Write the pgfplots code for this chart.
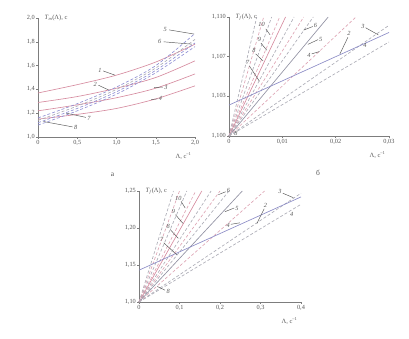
\documentclass[border=0pt]{standalone}
\usepackage{pgfplots}
\pgfplotsset{compat=1.18}
\usepackage{fontspec}
\setmainfont{Liberation Serif}

\definecolor{pinkS}{RGB}{214,140,160}
\definecolor{pinkD}{RGB}{222,165,180}
\definecolor{grayD}{RGB}{172,172,182}
\definecolor{grayS}{RGB}{145,145,162}
\definecolor{blueS}{RGB}{140,140,198}
\definecolor{blueD}{RGB}{145,145,212}
\definecolor{axisc}{RGB}{125,125,125}
\definecolor{txt}{RGB}{85,85,85}

\pgfplotsset{
 base/.style={scale only axis, axis lines=left,
   axis line style={-, axisc, line width=0.6pt},
   tick style={axisc, line width=0.5pt}, tick align=outside, major tick length=2pt,
   ticklabel style={font=\fontsize{6.3}{7}\selectfont, text=txt, inner sep=1pt},
   clip=false, enlargelimits=false,
   every axis plot/.append style={line width=0.65pt}},
}
\tikzset{
 sd/.style={dash pattern=on 3pt off 2pt},
 lead/.style={draw=txt, line width=0.45pt},
 num/.style={font=\fontsize{6.3}{7}\selectfont\itshape, text=txt, inner sep=0.5pt},
 lbl/.style={font=\fontsize{6.5}{7}\selectfont, text=txt},
 big/.style={font=\fontsize{7.5}{8}\selectfont, text=txt},
}

\begin{document}
\begin{tikzpicture}
\path (0,0) rectangle (409pt,338pt);

% ---------------- panel a ----------------
\begin{axis}[base, at={(38pt,201pt)}, anchor=south west, width=157pt, height=119pt,
  xmin=0, xmax=2, ymin=1, ymax=2,
  xtick={0,0.5,1,1.5,2}, xticklabels={0,{0,5},{1,0},{1,5},{2,0}},
  ytick={1,1.2,1.4,1.6,1.8,2}, yticklabels={{1,0},{1,2},{1,4},{1,6},{1,8},{2,0}}]
\addplot[pinkS, smooth] coordinates {(0,1.37) (0.5,1.44) (1,1.52) (1.5,1.63) (2,1.78)};
\addplot[pinkS, smooth] coordinates {(0,1.29) (0.5,1.34) (1,1.41) (1.5,1.50) (2,1.64)};
\addplot[pinkS, smooth] coordinates {(0,1.22) (0.5,1.27) (1,1.33) (1.5,1.41) (2,1.53)};
\addplot[pinkS, smooth] coordinates {(0,1.15) (0.5,1.19) (1,1.24) (1.5,1.32) (2,1.43)};
\addplot[blueD, sd, smooth] coordinates {(0,1.16) (0.5,1.28) (1,1.42) (1.5,1.60) (2,1.87)};
\addplot[grayD, sd, smooth] coordinates {(0,1.14) (0.5,1.26) (1,1.40) (1.5,1.58) (2,1.82)};
\addplot[blueD, sd, smooth] coordinates {(0,1.12) (0.5,1.24) (1,1.38) (1.5,1.56) (2,1.79)};
\addplot[blueD, sd, smooth] coordinates {(0,1.10) (0.5,1.22) (1,1.36) (1.5,1.54) (2,1.76)};
\node[lbl, anchor=west, xshift=3pt] at (rel axis cs:0,1) {\textit{T}\textsubscript{\textit{m}}(Λ), с};
\node[lbl, anchor=north east, yshift=-12pt] at (rel axis cs:1,0) {Λ, с\textsuperscript{–1}};
\node[big] at (axis cs:0.95,0.68) {а};
\node[num] at (axis cs:0.79,1.56) {1};
\draw[lead] (axis cs:0.83,1.555) -- (axis cs:0.98,1.52);
\node[num] at (axis cs:0.73,1.44) {2};
\draw[lead] (axis cs:0.77,1.435) -- (axis cs:0.9,1.395);
\node[num] at (axis cs:1.63,1.42) {3};
\draw[lead] (axis cs:1.48,1.415) -- (axis cs:1.59,1.42);
\node[num] at (axis cs:1.56,1.32) {4};
\draw[lead] (axis cs:1.44,1.315) -- (axis cs:1.52,1.32);
\node[num] at (axis cs:1.62,1.90) {5};
\draw[lead] (axis cs:1.67,1.90) -- (axis cs:1.99,1.865);
\node[num] at (axis cs:1.55,1.80) {6};
\draw[lead] (axis cs:1.60,1.80) -- (axis cs:1.96,1.78);
\node[num] at (axis cs:0.65,1.16) {7};
\draw[lead] (axis cs:0.61,1.165) -- (axis cs:0.36,1.20);
\node[num] at (axis cs:0.48,1.08) {8};
\draw[lead] (axis cs:0.44,1.085) -- (axis cs:0.07,1.13);
\end{axis}

% ---------------- panel b ----------------
\begin{axis}[base, at={(229pt,202pt)}, anchor=south west, width=160pt, height=119pt,
  xmin=0, xmax=0.03, ymin=1.1, ymax=1.11,
  xtick={0,0.01,0.02,0.03}, xticklabels={0,{0,01},{0,02},{0,03}},
  ytick={1.1,1.103333,1.106667,1.11}, yticklabels={{1,100},{1,103},{1,107},{1,110}},
  scaled x ticks=false, scaled y ticks=false]
\addplot[grayD, sd] coordinates {(0,1.1) (0.0052,1.11)};
\addplot[pinkD, sd] coordinates {(0,1.1) (0.0065,1.11)};
\addplot[grayD, sd] coordinates {(0,1.1) (0.0080,1.11)};
\addplot[pinkD, sd] coordinates {(0,1.1) (0.0095,1.11)};
\addplot[pinkS] coordinates {(0,1.1) (0.0106,1.11)};
\addplot[grayD, sd] coordinates {(0,1.1) (0.0122,1.11)};
\addplot[pinkD, sd] coordinates {(0,1.1) (0.0140,1.11)};
\addplot[grayD, sd] coordinates {(0,1.1) (0.0158,1.11)};
\addplot[grayS] coordinates {(0,1.1) (0.0186,1.11)};
\addplot[pinkD, sd] coordinates {(0,1.1) (0.0238,1.11)};
\addplot[grayD, sd] coordinates {(0,1.1) (0.03,1.1093)};
\addplot[grayD, sd] coordinates {(0,1.1) (0.03,1.1079)};
\addplot[blueS] coordinates {(0,1.1026) (0.03,1.1087)};
\node[lbl, anchor=west, xshift=3pt] at (rel axis cs:0,1) {\textit{T}\textsubscript{\textit{f}}(Λ), с};
\node[lbl, anchor=north east, yshift=-12pt] at (rel axis cs:1,0) {Λ, с\textsuperscript{–1}};
\node[big] at (axis cs:0.0167,1.0969) {б};
\node[num] at (axis cs:0.0061,1.1094) {10};
\draw[lead] (axis cs:0.0069,1.1090) -- (axis cs:0.0077,1.1085);
\node[num] at (axis cs:0.0057,1.1081) {9};
\draw[lead] (axis cs:0.0060,1.1078) -- (axis cs:0.0071,1.1072);
\node[num] at (axis cs:0.0047,1.1072) {8};
\draw[lead] (axis cs:0.0050,1.1069) -- (axis cs:0.0064,1.1063);
\node[num] at (axis cs:0.0035,1.1062) {7};
\draw[lead] (axis cs:0.0038,1.1059) -- (axis cs:0.0057,1.1046);
\node[num] at (axis cs:0.0162,1.1093) {6};
\draw[lead] (axis cs:0.0157,1.1092) -- (axis cs:0.0140,1.1089);
\node[num] at (axis cs:0.0172,1.1081) {5};
\draw[lead] (axis cs:0.0167,1.1081) -- (axis cs:0.0148,1.1077);
\node[num] at (axis cs:0.0150,1.1068) {4};
\draw[lead] (axis cs:0.0155,1.1069) -- (axis cs:0.0170,1.1071);
\node[num] at (axis cs:0.0225,1.1086) {2};
\draw[lead] (axis cs:0.0223,1.1083) -- (axis cs:0.0208,1.1069);
\node[num] at (axis cs:0.0251,1.1092) {3};
\draw[lead] (axis cs:0.0256,1.1091) -- (axis cs:0.0280,1.1085);
\node[num] at (axis cs:0.0255,1.1076) {4};
\node[num] at (axis cs:0.0013,1.1002) {8};
\end{axis}

% ---------------- panel c ----------------
\begin{axis}[base, at={(139pt,36pt)}, anchor=south west, width=162pt, height=111pt,
  xmin=0, xmax=0.4, ymin=1.1, ymax=1.25,
  xtick={0,0.1,0.2,0.3,0.4}, xticklabels={0,{0,1},{0,2},{0,3},{0,4}},
  ytick={1.1,1.15,1.2,1.25}, yticklabels={{1,10},{1,15},{1,20},{1,25}}]
\addplot[grayD, sd] coordinates {(0,1.1) (0.085,1.25)};
\addplot[pinkD, sd] coordinates {(0,1.1) (0.100,1.25)};
\addplot[grayD, sd] coordinates {(0,1.1) (0.118,1.25)};
\addplot[pinkD, sd] coordinates {(0,1.1) (0.140,1.25)};
\addplot[pinkS] coordinates {(0,1.1) (0.155,1.25)};
\addplot[grayD, sd] coordinates {(0,1.1) (0.178,1.25)};
\addplot[pinkD, sd] coordinates {(0,1.1) (0.200,1.25)};
\addplot[grayD, sd] coordinates {(0,1.1) (0.222,1.25)};
\addplot[grayS] coordinates {(0,1.1) (0.255,1.25)};
\addplot[pinkD, sd] coordinates {(0,1.1) (0.310,1.25)};
\addplot[grayD, sd] coordinates {(0,1.1) (0.4,1.247)};
\addplot[grayD, sd] coordinates {(0,1.1) (0.4,1.232)};
\addplot[blueS] coordinates {(0,1.143) (0.4,1.242)};
\node[lbl, anchor=west, xshift=3pt] at (rel axis cs:0,1) {\textit{T}\textsubscript{\textit{f}}(Λ), с};
\node[lbl, anchor=north east, yshift=-12pt] at (rel axis cs:1,0) {Λ, с\textsuperscript{–1}};
\node[num] at (axis cs:0.097,1.240) {10};
\draw[lead] (axis cs:0.104,1.236) -- (axis cs:0.114,1.227);
\node[num] at (axis cs:0.085,1.222) {9};
\draw[lead] (axis cs:0.090,1.218) -- (axis cs:0.109,1.206);
\node[num] at (axis cs:0.072,1.202) {8};
\draw[lead] (axis cs:0.077,1.198) -- (axis cs:0.097,1.186);
\node[num] at (axis cs:0.056,1.184) {7};
\draw[lead] (axis cs:0.061,1.180) -- (axis cs:0.093,1.164);
\node[num] at (axis cs:0.221,1.251) {6};
\draw[lead] (axis cs:0.214,1.249) -- (axis cs:0.196,1.245);
\node[num] at (axis cs:0.242,1.227) {5};
\draw[lead] (axis cs:0.235,1.227) -- (axis cs:0.212,1.222);
\node[num] at (axis cs:0.220,1.204) {4};
\draw[lead] (axis cs:0.227,1.205) -- (axis cs:0.249,1.207);
\node[num] at (axis cs:0.312,1.230) {2};
\draw[lead] (axis cs:0.309,1.226) -- (axis cs:0.291,1.206);
\node[num] at (axis cs:0.348,1.249) {3};
\draw[lead] (axis cs:0.355,1.247) -- (axis cs:0.381,1.241);
\node[num] at (axis cs:0.377,1.218) {4};
\node[num] at (axis cs:0.072,1.114) {8};
\draw[lead] (axis cs:0.064,1.116) -- (axis cs:0.045,1.121);
\end{axis}
\end{tikzpicture}
\end{document}
